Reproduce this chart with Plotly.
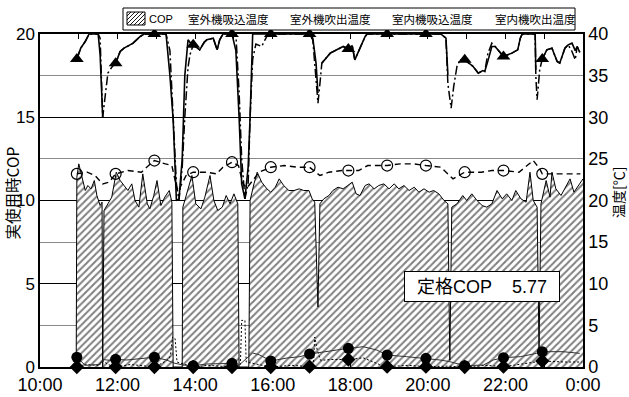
import plotly.graph_objects as go

# ---------------- data ----------------
COP_TIME = ["10:56", "10:57", "11:00", "11:05", "11:10", "11:14", "11:19", "11:24", "11:28", "11:33",
            "11:36", "11:37", "11:39", "11:45", "11:51", "11:58", "12:04", "12:10", "12:16", "12:22",
            "12:27", "12:33", "12:39", "12:46", "12:50", "12:56", "13:01", "13:07", "13:13", "13:20",
            "13:24", "13:26", "13:40", "13:41", "13:47", "13:55", "14:01", "14:09", "14:15", "14:23",
            "14:29", "14:35", "14:42", "14:48", "14:54", "15:00", "15:06", "15:08", "15:23", "15:25",
            "15:31", "15:36", "15:43", "15:51", "15:57", "16:04", "16:10", "16:17", "16:25", "16:33",
            "16:41", "16:48", "16:56", "17:01", "17:05", "17:10", "17:13", "17:19", "17:27", "17:33",
            "17:41", "17:49", "17:56", "18:03", "18:09", "18:15", "18:23", "18:29", "18:37", "18:44",
            "18:52", "19:00", "19:08", "19:15", "19:23", "19:31", "19:39", "19:46", "19:54", "20:02",
            "20:09", "20:17", "20:25", "20:31", "20:34", "20:37", "20:45", "20:54", "21:00", "21:08",
            "21:16", "21:24", "21:31", "21:39", "21:47", "21:55", "22:02", "22:10", "22:16", "22:24",
            "22:32", "22:38", "22:43", "22:49", "22:52", "22:55", "23:03", "23:09", "23:12", "23:18",
            "23:26", "23:34", "23:40", "23:46", "23:51", "24:00"]
COP = [0, 11.4, 12.2, 11.3, 10.6, 10.9, 10.7, 11.2, 10.3, 9.7,
       9.9, 0, 9.4, 9.8, 10.2, 11.7, 11.2, 10.9, 10.6, 11.0,
       10.0, 9.6, 11.6, 9.8, 9.5, 10.3, 11.2, 9.7, 10.2, 10.6,
       9.9, 0, 0, 9.6, 10.4, 11.5, 9.8, 9.5, 10.2, 11.5,
       10.0, 9.4, 9.6, 10.3, 9.8, 10.4, 9.8, 0, 0, 10.0,
       11.0, 11.7, 11.1, 10.7, 10.5, 10.8, 11.3, 10.9, 10.6, 10.6,
       10.7, 10.6, 10.6, 10.1, 9.9, 3.6, 9.8, 10.1, 10.3, 10.6,
       10.8, 10.7, 10.9, 11.1, 10.4, 10.3, 10.9, 11.0, 10.7, 10.9,
       11.0, 10.7, 11.0, 10.7, 10.9, 10.6, 10.8, 10.5, 10.7, 10.5,
       10.6, 10.4, 10.0, 9.8, 0.4, 9.6, 9.8, 10.3, 10.0, 10.4,
       10.0, 9.7, 9.6, 9.8, 10.6, 10.1, 10.4, 10.0, 10.6, 10.1,
       9.9, 11.7, 10.0, 9.6, 1.0, 9.8, 11.2, 10.2, 11.7, 10.7,
       10.3, 10.9, 11.3, 10.5, 10.8, 11.3]

OUT_TIME = ["10:57", "11:03", "11:10", "11:16", "11:30", "11:33", "11:37", "11:40", "11:45", "11:51",
            "11:57", "12:04", "12:10", "12:15", "12:24", "12:35", "12:41", "12:57", "13:15", "13:21",
            "13:26", "13:31", "13:35", "13:40", "13:44", "13:49", "13:52", "13:57", "14:07", "14:14",
            "14:18", "14:28", "14:34", "14:38", "14:43", "14:57", "15:03", "15:08", "15:12", "15:17",
            "15:22", "15:25", "15:29", "15:34", "15:43", "15:48", "15:53", "15:57", "16:57", "17:02",
            "17:07", "17:10", "17:13", "17:16", "17:29", "17:39", "17:49", "17:57", "18:03", "18:07",
            "18:15", "18:23", "18:26", "18:57", "19:57", "20:20", "20:28", "20:31", "20:36", "20:40",
            "20:45", "20:50", "20:57", "21:10", "21:18", "21:25", "21:28", "21:33", "21:39", "21:44",
            "21:57", "22:10", "22:19", "22:23", "22:26", "22:46", "22:47", "22:49", "22:53", "22:57",
            "23:04", "23:12", "23:20", "23:24", "23:32", "23:37", "23:43", "23:48", "23:51", "23:55"]
# 室外機吸込温度 (solid, triangles)
OUT_SUCTION = [37.0, 38.3, 39.1, 40, 40, 37.5, 30.0, None, None, None,
               36.5, 37.9, 38.3, 38.5, 38.9, 39.7, 40, 40, 40, 35,
               29.7, 20.0, 20.2, 25, 35, 39.3, 39.0, 38.7, 38.1, 39.0,
               39.3, 39.5, 38.1, 39.3, 40, 40, 38, 30, 22, 20.2,
               24, 30, 40, 40, 40, 40, 40, 40, 40, 39.5,
               36.5, 32.9, None, 36.5, 37.7, 38.1, 38.5, 38.2, 38.6, 36.9,
               38.3, 39.7, 40, 40, 40, 40, 39.5, 35.1, None, None,
               None, 36.9, 36.9, 36.1, 35.3, 35.6, 35.5, 36.8, 38.5, 38.5,
               37.3, 37.7, 38.1, 39.5, 40, 40, 35.7, None, None, 37.0,
               38.1, 38.3, 36.7, 36.5, 38.3, 38.7, 38.9, 38.0, 38.5, 37.8]
# 室外機吹出温度 (dash-dot)
OUT_DISCHARGE = [37.0, 38.3, 39.1, 40, 40, 39.5, 30.0, 32.0, 35.3, 36.0,
                 36.5, 37.9, 38.3, 38.5, 38.9, 39.7, 40, 40, 40, 38,
                 30, 22, 20.0, 24, 30, 36, 37.5, 38.7, 38.1, 39.0,
                 39.3, 39.5, 38.1, 39.3, 40, 40, 40, 33, 25, 20.2,
                 22, 30, 37, 38.8, 38.5, 39.3, 40, 40, 40, 39.3,
                 35, 31.7, 34, 36.5, 37.7, 38.1, 38.5, 38.2, 38.6, 36.9,
                 38.3, 39.7, 40, 40, 40, 40, 39.5, 34, 31.1, 33.7,
                 36.1, 36.9, 36.9, 36.1, 35.3, 35.6, 35.5, 37.7, 38.9, 38.5,
                 37.3, 37.7, 38.1, 39.5, 40, 40, 35, 32.1, 35.7, 37.0,
                 38.1, 38.3, 36.7, 36.5, 38.3, 38.7, 37.9, 36.9, 38.5, 37.8]

IN_TIME = ["10:57", "11:13", "11:25", "11:37", "11:47", "11:57", "12:16", "12:37", "12:45", "12:57",
           "13:14", "13:24", "13:33", "13:42", "13:46", "13:57", "14:17", "14:33", "14:43", "14:57",
           "15:07", "15:14", "15:20", "15:39", "15:57", "16:18", "16:39", "16:57", "17:13", "17:27",
           "17:47", "17:57", "18:13", "18:27", "18:46", "18:57", "19:17", "19:38", "19:57", "20:20",
           "20:39", "20:57", "21:23", "21:39", "21:57", "22:21", "22:43", "22:53", "22:57", "23:24",
           "23:56"]
# 室内機吸込温度 (dashed, open circles)
IN_SUCTION = [23.2, 23.4, 23.0, 22.0, 22.2, 23.2, 23.6, 23.4, 24.0, 24.8,
              24.4, 24.2, 21.0, 22.5, 23.0, 23.4, 23.4, 23.2, 24.0, 24.6,
              24.2, 22.0, 21.5, 23.4, 24.0, 24.2, 24.0, 24.0, 23.0, 23.4,
              23.6, 23.6, 23.6, 24.2, 24.2, 24.2, 24.4, 24.4, 24.2, 24.0,
              22.6, 23.4, 23.4, 23.6, 23.6, 23.4, 24.8, 23.8, 23.2, 23.2,
              23.2]

LOW1_TIME = ["10:57", "11:10", "11:33", "11:37", "11:48", "11:57", "12:14", "12:35", "12:57", "13:16",
             "13:26", "13:41", "13:57", "14:18", "14:38", "14:57", "15:09", "15:29", "15:40", "15:57",
             "16:22", "16:42", "16:57", "17:18", "17:39", "17:57", "18:20", "18:41", "18:57", "19:27",
             "19:57", "20:19", "20:34", "20:57", "21:26", "21:41", "21:57", "22:23", "22:48", "22:57",
             "23:29", "23:55"]
# 室内機吹出温度 (thin solid, filled circles)
IN_DISCHARGE = [1.17, 0.2, 0.3, 0.9, 0.8, 0.92, 0.84, 1.04, 1.17, 0.84,
                0.5, 0.24, 0.16, 0.36, 0.44, 0.44, 0.3, 1.68, 1.44, 0.72,
                1.08, 1.24, 1.56, 1.84, 2.04, 2.24, 2.44, 2.04, 1.44, 1.24,
                1.04, 0.84, 0.64, 0.16, 0.24, 0.84, 1.12, 1.24, 1.64, 1.84,
                1.84, 1.64]

LOW2_TIME = ["10:57", "11:10", "11:30", "11:37", "11:45", "11:57", "12:20", "12:57", "13:10", "13:20",
             "13:22", "13:25", "13:29", "13:32", "13:57", "14:20", "14:57", "15:10", "15:12", "15:17",
             "15:19", "15:57", "16:30", "16:57", "17:03", "17:05", "17:09", "17:14", "17:30", "17:57",
             "18:20", "18:45", "18:57", "19:30", "19:57", "20:30", "20:57", "21:30", "21:57", "22:30",
             "22:57", "23:30", "23:58"]
# auxiliary temperature (dotted, diamonds)
AUX_TEMP = [0, 0.3, 0.2, 0.8, 0.3, 0, 0.3, 0, 0.5, 1.0,
            1.5, 3.6, 3.4, 0.6, 0, 0.2, 0, 0.3, 5.6, 5.6,
            0.6, 0, 0.2, 0.04, 0.4, 3.6, 2.0, 0.8, 0.9, 0.9,
            1.1, 0.3, 0.04, 0.2, 0.04, 0.1, 0, 0.2, 0.04, 0.4,
            0.72, 0.6, 0.6]

MARK_TIMES = ["10:57", "11:57", "12:57", "13:57", "14:57", "15:57", "16:57",
              "17:57", "18:57", "19:57", "20:57", "21:57", "22:57"]

X_TICKS = [10, 12, 14, 16, 18, 20, 22, 24]
X_TICK_TEXT = ["10:00", "12:00", "14:00", "16:00", "18:00", "20:00", "22:00", "0:00"]
LEGEND_LABELS = ["COP", "室外機吸込温度", "室外機吹出温度", "室内機吸込温度", "室内機吹出温度"]
RATED_COP = 5.77

# ---------------- helpers ----------------
def hours(ts):
    out = []
    for t in ts:
        h, m = t.split(":")
        out.append(int(h) + int(m) / 60.0)
    return out


def marks(ts, vals, size):
    sizes, ops = [], []
    for t, v in zip(ts, vals):
        on = (t in MARK_TIMES) and (v is not None)
        sizes.append(size if on else 0)
        ops.append(1 if on else 0)
    return sizes, ops


# plot area in pixels (for decorations outside the axes)
W, H = 629, 397
L, R, T, B = 40, 46, 34, 30
PW, PH = W - L - R, H - T - B


def px(x):
    return (x - L) / PW


def py(y):
    return (H - B - y) / PH


LATIN = "Liberation Sans, Arial, Noto Sans CJK JP, sans-serif"
CJK = "Noto Sans CJK JP, Liberation Sans, sans-serif"

fig = go.Figure()

# COP hatched area
fig.add_trace(go.Scatter(
    x=hours(COP_TIME), y=COP, mode="lines", name="COP", yaxis="y",
    fill="tozeroy", fillcolor="white",
    fillpattern=dict(shape="/", fgcolor="black", bgcolor="white", size=5, solidity=0.4),
    line=dict(color="black", width=1), showlegend=False))

ox = hours(OUT_TIME)
fig.add_trace(go.Scatter(
    x=ox, y=OUT_DISCHARGE, mode="lines", name="室外機吹出温度", yaxis="y2",
    line=dict(color="black", width=1.5, dash="9px,3px,2px,3px"), showlegend=False))
s2, o2 = marks(OUT_TIME, OUT_SUCTION, 12)
fig.add_trace(go.Scatter(
    x=ox, y=OUT_SUCTION, mode="lines+markers", name="室外機吸込温度", yaxis="y2",
    line=dict(color="black", width=1.6), connectgaps=False, cliponaxis=False,
    marker=dict(symbol="triangle-up", size=s2, opacity=o2, color="black", line=dict(width=0)),
    showlegend=False))

s3, o3 = marks(IN_TIME, IN_SUCTION, 11)
fig.add_trace(go.Scatter(
    x=hours(IN_TIME), y=IN_SUCTION, mode="lines+markers", name="室内機吸込温度", yaxis="y2",
    line=dict(color="black", width=1.4, dash="6px,4px"), cliponaxis=False,
    marker=dict(symbol="circle-open", size=s3, opacity=o3, color="black", line=dict(width=1.2, color="black")),
    showlegend=False))

s5, o5 = marks(LOW2_TIME, AUX_TEMP, 11)
fig.add_trace(go.Scatter(
    x=hours(LOW2_TIME), y=AUX_TEMP, mode="lines+markers", name="補助温度", yaxis="y2",
    line=dict(color="black", width=1, dash="2px,2px"), cliponaxis=False,
    marker=dict(symbol="diamond", size=s5, opacity=o5, color="black", line=dict(width=0)),
    showlegend=False))

s4, o4 = marks(LOW1_TIME, IN_DISCHARGE, 11)
fig.add_trace(go.Scatter(
    x=hours(LOW1_TIME), y=IN_DISCHARGE, mode="lines+markers", name="室内機吹出温度", yaxis="y2",
    line=dict(color="#333", width=1), cliponaxis=False,
    marker=dict(symbol="circle", size=s4, opacity=o4, color="black", line=dict(width=0)),
    showlegend=False))

# ---------------- decorations ----------------
shapes = []
annotations = []

# legend box
shapes.append(dict(type="rect", xref="paper", yref="paper",
                   x0=px(123), x1=px(575), y0=py(30), y1=py(8),
                   line=dict(color="black", width=1), fillcolor="white", layer="above"))
# hatched swatch
sx0, sx1, sy0, sy1 = 127, 145, 12, 25
shapes.append(dict(type="rect", xref="paper", yref="paper",
                   x0=px(sx0), x1=px(sx1), y0=py(sy1), y1=py(sy0),
                   line=dict(color="black", width=1), fillcolor="white", layer="above"))
hgt = sy1 - sy0
start = sx0 - hgt
while start < sx1:
    t0 = max(0, sx0 - start)
    t1 = min(hgt, sx1 - start)
    if t1 > t0:
        shapes.append(dict(type="line", xref="paper", yref="paper",
                           x0=px(start + t0), y0=py(sy1 - t0), x1=px(start + t1), y1=py(sy1 - t1),
                           line=dict(color="black", width=0.9), layer="above"))
    start += 4

annotations.append(dict(text=LEGEND_LABELS[0], xref="paper", yref="paper", x=px(147), y=py(19),
                        xanchor="left", yanchor="middle", showarrow=False,
                        font=dict(family=LATIN, size=11, color="black")))
for lab, cx in zip(LEGEND_LABELS[1:], [228, 330, 432, 535]):
    annotations.append(dict(text=lab, xref="paper", yref="paper", x=px(cx), y=py(19),
                            xanchor="center", yanchor="middle", showarrow=False,
                            font=dict(family=CJK, size=11.5, color="black")))

# rated COP box
annotations.append(dict(text="定格COP\u00a0\u00a0\u00a0\u00a0%.2f" % RATED_COP,
                        xref="paper", yref="paper", x=px(481.5), y=py(286),
                        xanchor="center", yanchor="middle", showarrow=False,
                        width=150, height=25, borderpad=2, bgcolor="white",
                        bordercolor="black", borderwidth=1,
                        font=dict(family=LATIN, size=18, color="black")))

# axis titles
annotations.append(dict(text="実使用時COP", xref="paper", yref="paper", x=px(11.5), y=py(193),
                        xanchor="center", yanchor="middle", textangle=-90, showarrow=False,
                        font=dict(family=CJK, size=15.5, color="black")))
annotations.append(dict(text="温度[℃]", xref="paper", yref="paper", x=px(618), y=py(193),
                        xanchor="center", yanchor="middle", textangle=-90, showarrow=False,
                        font=dict(family=CJK, size=14, color="black")))

fig.update_layout(
    width=W, height=H, margin=dict(l=L, r=R, t=T, b=B, pad=0, autoexpand=False),
    paper_bgcolor="white", plot_bgcolor="white", showlegend=False,
    shapes=shapes, annotations=annotations,
    xaxis=dict(range=[10, 24], tickvals=X_TICKS, ticktext=X_TICK_TEXT, automargin=False,
               showgrid=False, zeroline=False, showline=True, linecolor="black", linewidth=1.5,
               mirror="ticks", ticks="inside", ticklen=5, tickcolor="black",
               ticklabelstandoff=1,
               minor=dict(dtick=1, tick0=10, ticks="inside", ticklen=5, tickcolor="black"),
               tickfont=dict(family=LATIN, size=18, color="black")),
    yaxis=dict(range=[0, 20], tickvals=[0, 5, 10, 15, 20], showgrid=True, automargin=False,
               gridcolor="black", gridwidth=1, zeroline=False, showline=True,
               linecolor="black", linewidth=1.5, ticks="",
               minor=dict(dtick=2.5, tick0=0, showgrid=True, gridcolor="#8a8a8a", gridwidth=1),
               tickfont=dict(family=LATIN, size=17, color="black")),
    yaxis2=dict(range=[0, 40], tickvals=[0, 5, 10, 15, 20, 25, 30, 35, 40], overlaying="y",
                side="right", showgrid=False, zeroline=False, showline=True, automargin=False,
                linecolor="black", linewidth=1.5, ticks="",
                tickfont=dict(family=LATIN, size=18, color="black")),
)

fig.write_html("out.html")
